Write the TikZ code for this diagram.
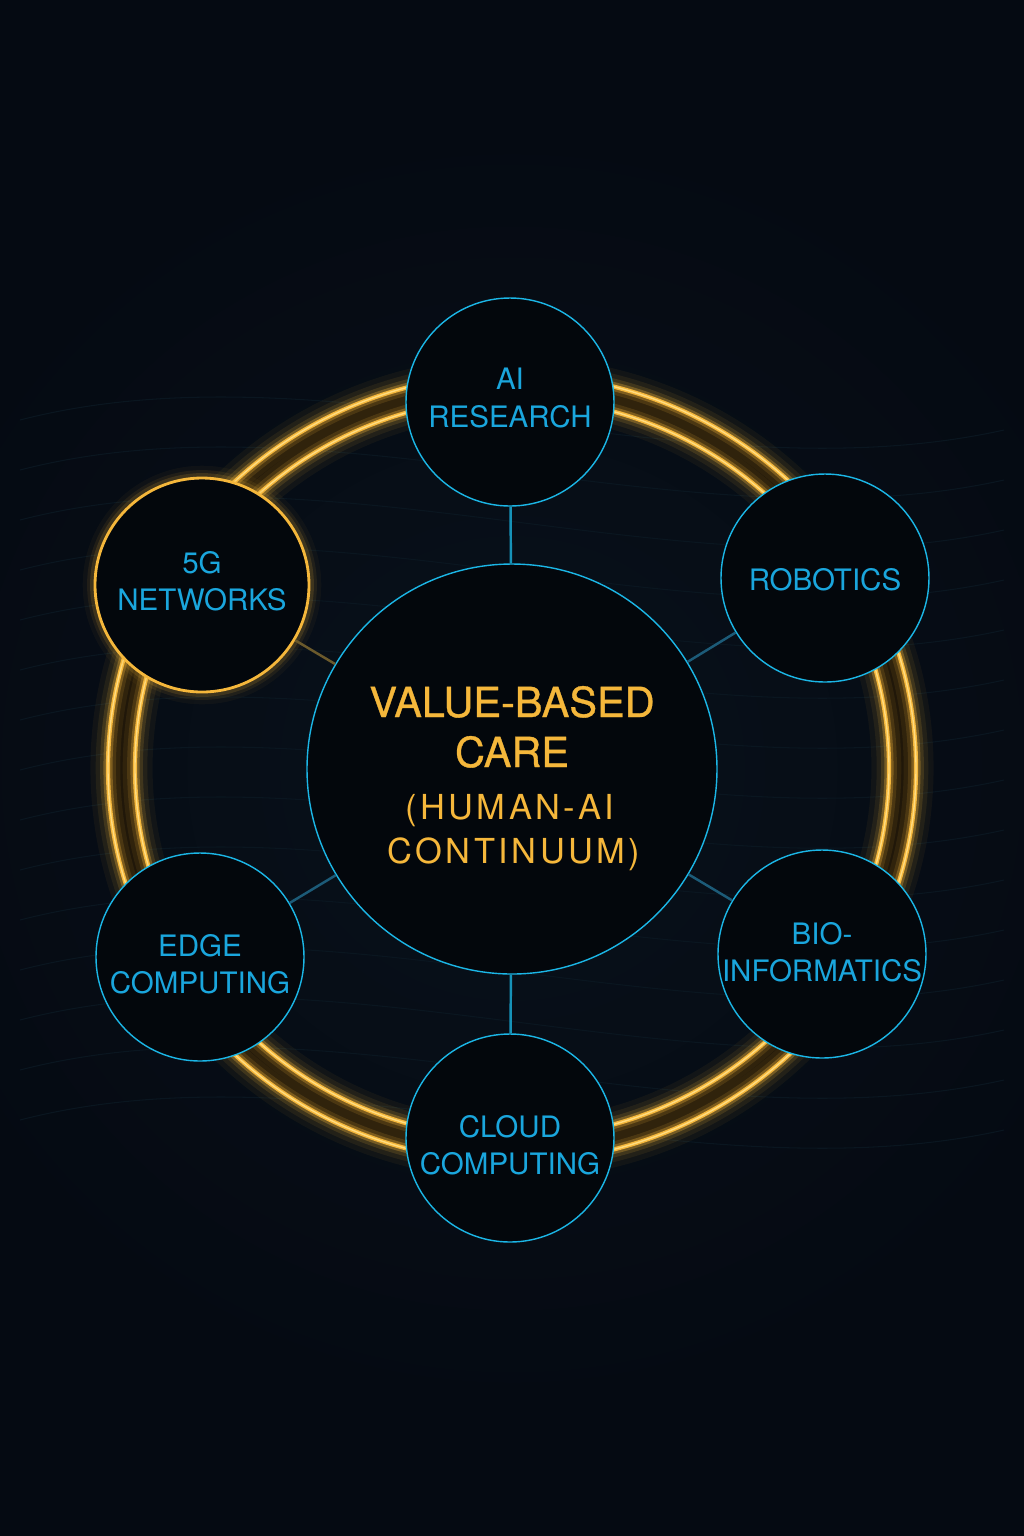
\documentclass[tikz,border=0pt]{standalone}
\usepackage{fontspec}
\setmainfont{TeX Gyre Heros}
\usepackage{tikz}
\usetikzlibrary{positioning}
\definecolor{bg}{HTML}{050A12}
\definecolor{bgmid}{HTML}{08111B}
\definecolor{disc}{HTML}{03070C}
\definecolor{gold}{HTML}{F5B73B}
\definecolor{goldhi}{HTML}{FFDC80}
\definecolor{band}{HTML}{150F07}
\definecolor{cyanline}{HTML}{1BB6E6}
\definecolor{cyantext}{HTML}{1AA6DD}
\definecolor{spokeblue}{HTML}{1C5B78}
\definecolor{spokegold}{HTML}{6B5A2C}
\definecolor{wave}{HTML}{0A1620}
\newcommand\satfont{\fontsize{8.4}{10.6}\selectfont}
\newcommand\ttlfont{\addfontfeatures{FakeBold=0.8}\fontsize{11.8}{14}\selectfont}
\newcommand\subfont{\addfontfeatures{LetterSpace=10}\fontsize{9.8}{12}\selectfont}

\begin{document}
\begin{tikzpicture}[x=0.1mm,y=-0.1mm,
  sat/.style={circle,draw=cyanline,line width=0.4pt,fill=disc,minimum size=2.08cm,inner sep=0pt},
  txt/.style={align=center,text=cyantext,font=\satfont,inner sep=0pt},
  hub/.style={circle,draw=cyanline,line width=0.4pt,fill=disc,minimum size=4.1cm},
  ttl/.style={anchor=base,text=gold,font=\ttlfont,inner sep=0pt},
  sub/.style={anchor=base,text=gold,font=\subfont,inner sep=0pt},
  spoke/.style={line width=0.7pt}]
\useasboundingbox (0,0) rectangle (1024,1536);
\fill[bg] (0,0) rectangle (1024,1536);
\shade[inner color=bgmid,outer color=bg] (512,768) circle [radius=650];
\foreach \k in {0,...,14}
  \draw[wave,line width=0.3pt] (20,420+50*\k) .. controls (330,340+50*\k) and (690,500+50*\k) .. (1004,430+50*\k);
% double ring
\fill[band,even odd rule] (512,768) ellipse [x radius=404,y radius=394]
  (512,768) ellipse [x radius=377,y radius=370];
\foreach \w/\o in {10/0.05,7/0.08,4.5/0.14,2.6/0.3}
  \draw[gold,line width=\w pt,opacity=\o] (512,768) ellipse [x radius=404,y radius=394]
    (512,768) ellipse [x radius=377,y radius=370];
\draw[gold,line width=1.2pt] (512,768) ellipse [x radius=404,y radius=394]
  (512,768) ellipse [x radius=377,y radius=370];
\draw[goldhi,line width=0.4pt] (512,768) ellipse [x radius=404,y radius=394]
  (512,768) ellipse [x radius=377,y radius=370];
\foreach \w/\o in {7/0.04,4.5/0.08,2.8/0.14}
  \draw[gold,line width=\w pt,opacity=\o] (202,585) circle [radius=107];
% nodes
\node[hub] (core) at (512,769) {};
\node[sat,label={[txt,yshift=0.4mm]center:{AI\\RESEARCH}}] (ai) at (510,402) {};
\node[sat,label={[txt,yshift=-0.15mm]center:ROBOTICS}] (robo) at (825,578) {};
\node[sat,label={[txt,yshift=0.2mm]center:{BIO-\\INFORMATICS}}] (bio) at (822,954) {};
\node[sat,label={[txt,yshift=-0.7mm]center:{CLOUD\\COMPUTING}}] (cloud) at (510,1138) {};
\node[sat,label={[txt,yshift=-0.75mm]center:{EDGE\\COMPUTING}}] (edge) at (200,957) {};
\node[sat,draw=gold,line width=0.8pt,minimum size=2.14cm,
  label={[txt,yshift=0.35mm]center:{5G\\NETWORKS}}] (fiveg) at (202,585) {};
\node[ttl] (t1) at (512,717) {VALUE-BASED};
\node[ttl] (t2) at (512,767) {CARE};
\node[sub] (t3) at (510,819) {(HUMAN-AI};
\node[sub] (t4) at (514,863) {CONTINUUM)};
% spokes
\draw[spoke,cyanline!80!black] (core) -- (ai);
\draw[spoke,cyanline!80!black] (core) -- (cloud);
\draw[spoke,spokeblue] (core) -- (robo);
\draw[spoke,spokeblue] (core) -- (bio);
\draw[spoke,spokeblue] (core) -- (edge);
\draw[spoke,spokegold] (core) -- (fiveg);
\end{tikzpicture}
\end{document}
